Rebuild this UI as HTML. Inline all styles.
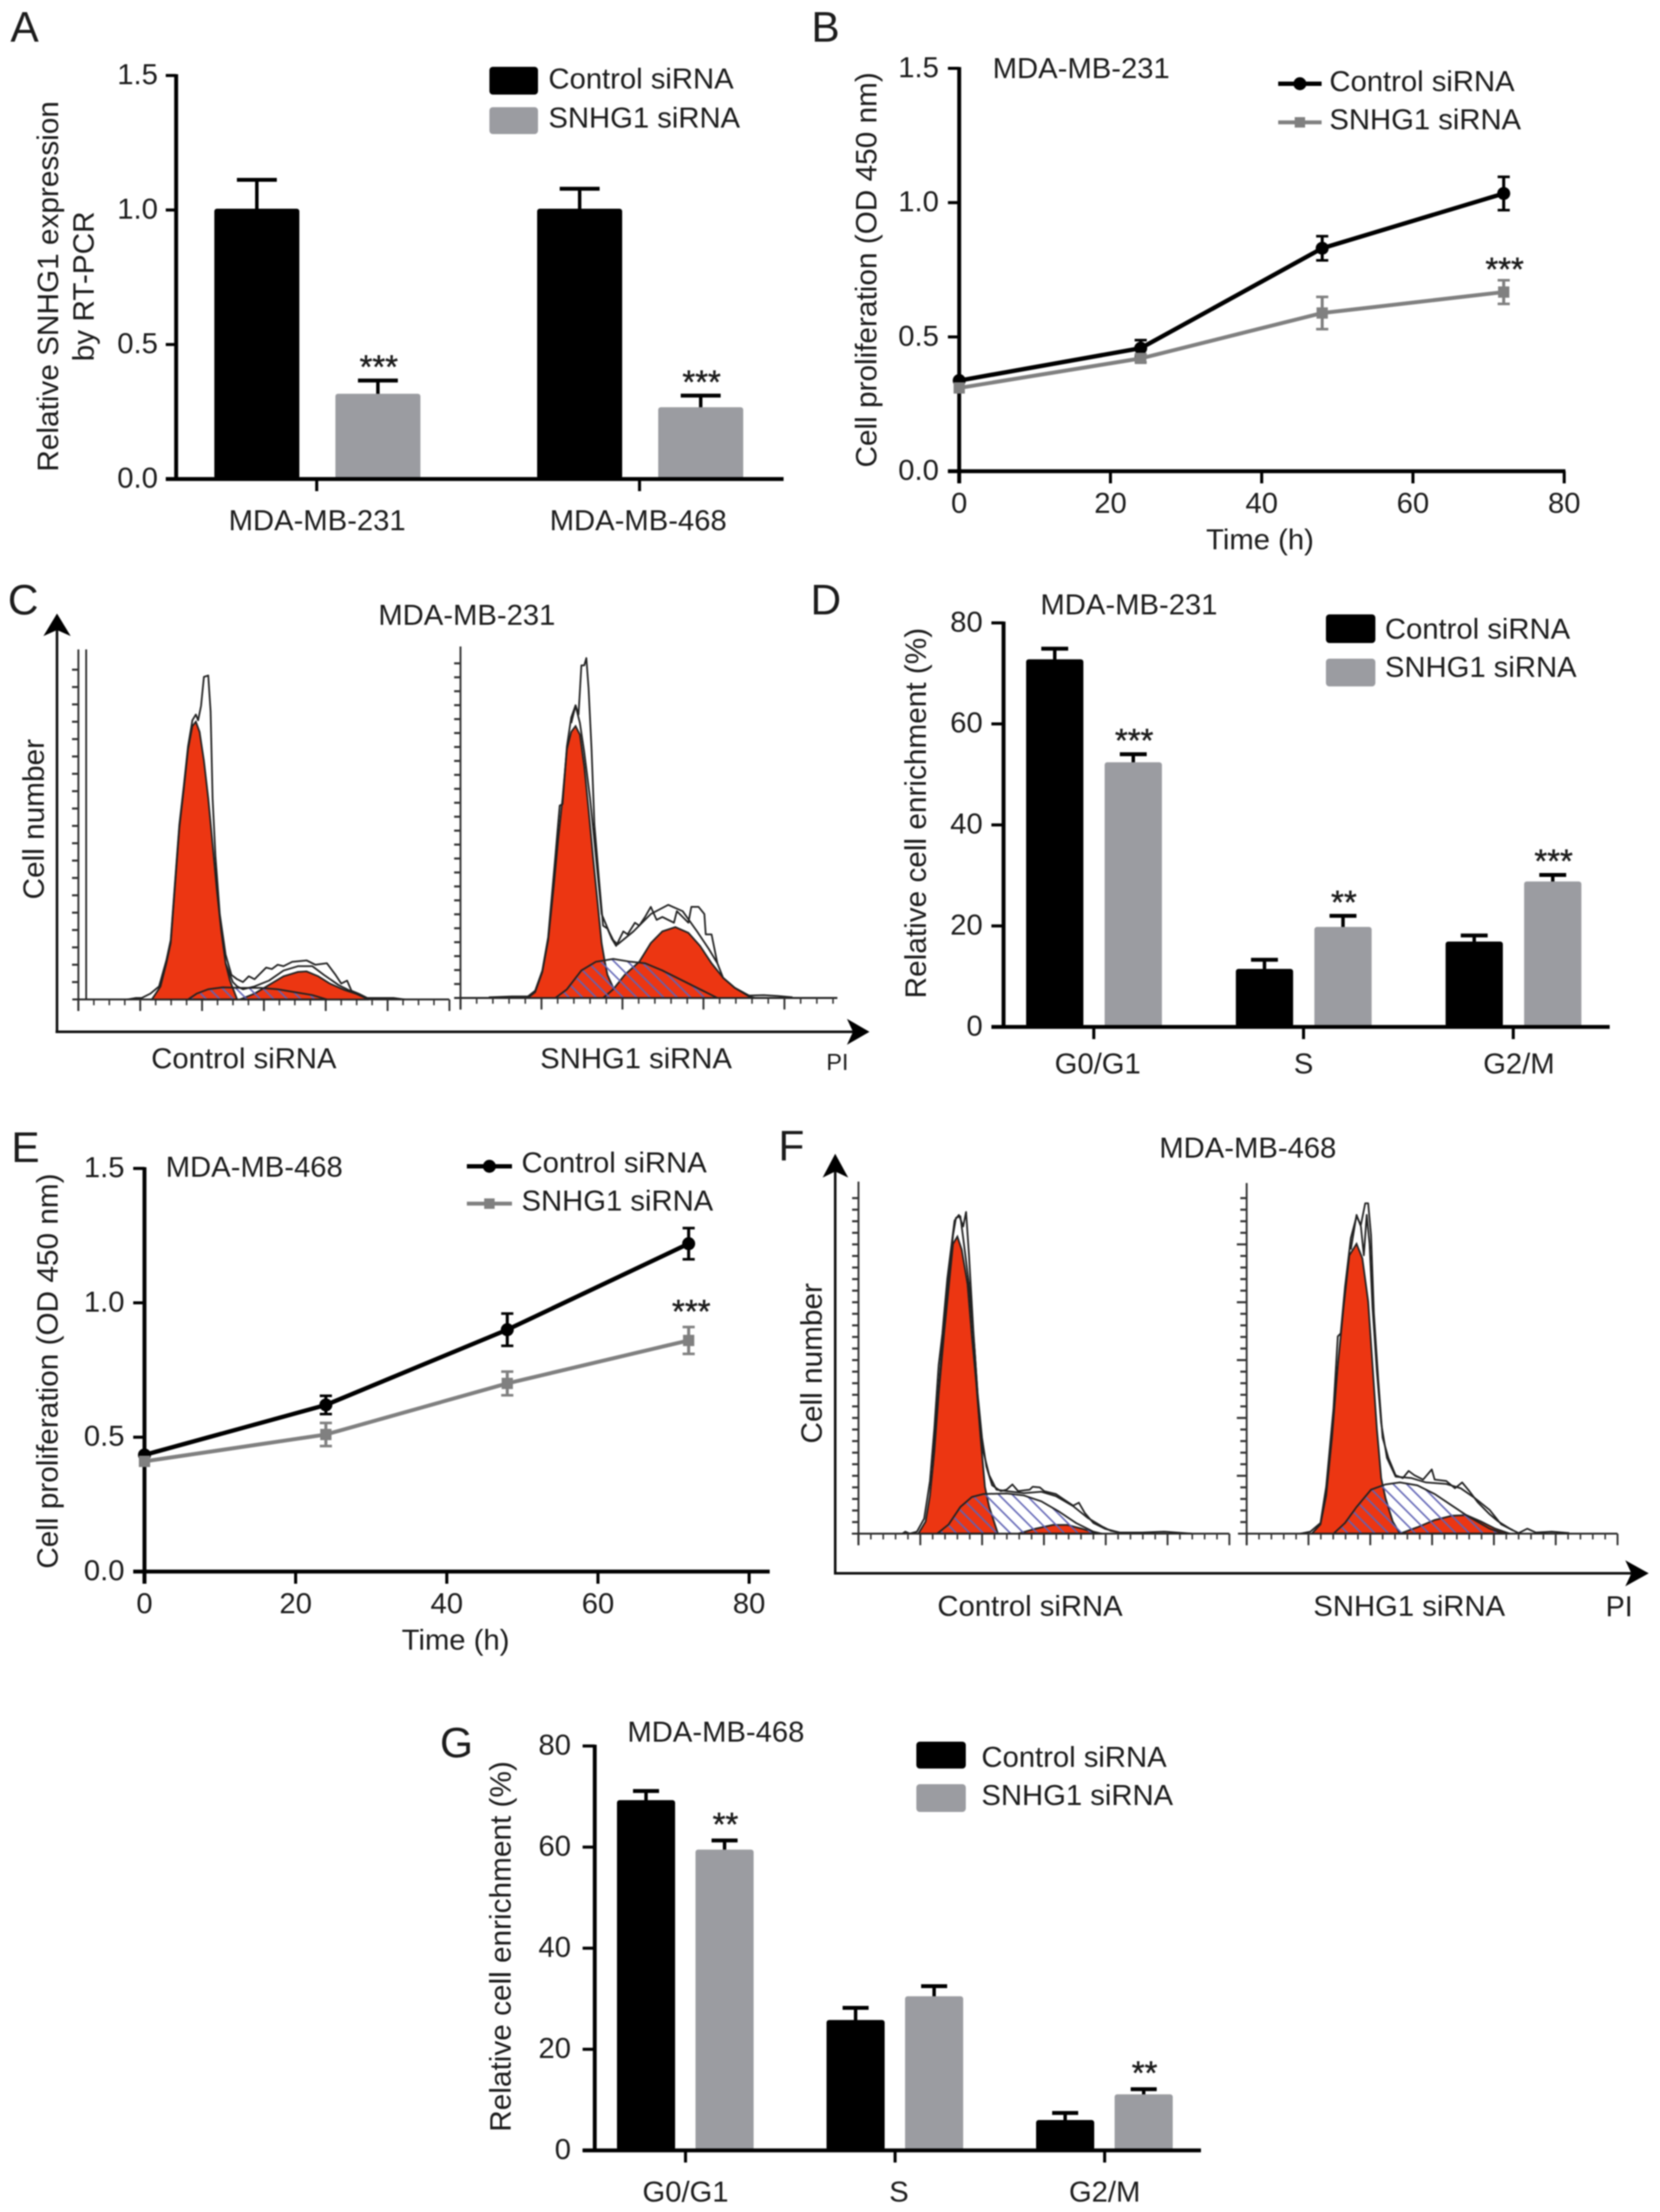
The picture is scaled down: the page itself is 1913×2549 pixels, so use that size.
<!DOCTYPE html>
<html lang="en">
<head>
<meta charset="utf-8">
<title>SNHG1 siRNA figure</title>
<style>
  html, body { margin: 0; padding: 0; background: #fff; }
  svg { display: block; filter: blur(0.7px); }
  text { font-family: "Liberation Sans", Arial, sans-serif; fill: #1c1c1c; }
  .lab { font-size: 33.7px; dominant-baseline: central; }
  .ytitle { font-size: 34.3px; }
  .panel { font-size: 49px; }
  .mid { text-anchor: middle; }
</style>
</head>
<body>
<svg id="fig" xmlns="http://www.w3.org/2000/svg" width="1913" height="2549" viewBox="0 0 1913 2549">
  <defs>
    <pattern id="hatch" patternUnits="userSpaceOnUse" width="11" height="11" patternTransform="rotate(-45)">
      <line x1="3" y1="0" x2="3" y2="11" stroke="#5f62b4" stroke-width="1.8"/>
    </pattern>
  </defs>
  <rect width="1913" height="2549" fill="#fff"/>

  <!-- Panel letters -->
  <text class="panel" x="12" y="48">A</text>
  <text class="panel" x="935" y="48">B</text>
  <text class="panel" x="9" y="708">C</text>
  <text class="panel" x="934" y="708">D</text>
  <text class="panel" x="13" y="1339">E</text>
  <text class="panel" x="897" y="1337">F</text>
  <text class="panel" x="507" y="2025">G</text>

  <!-- Panel A static -->
  <text class="lab mid ytitle" transform="translate(56,330) rotate(-90)">Relative SNHG1 expression</text>
  <text class="lab mid ytitle" transform="translate(97,330) rotate(-90)">by RT-PCR</text>
  <rect x="564" y="77" width="56" height="32" rx="4" fill="#000"/>
  <rect x="564" y="123.5" width="56" height="31" rx="4" fill="#9b9ca1"/>
  <text class="lab" x="632" y="91">Control siRNA</text>
  <text class="lab" x="632" y="136">SNHG1 siRNA</text>

  <!-- Panel B static -->
  <text class="lab" x="1144" y="79">MDA-MB-231</text>
  <text class="lab mid ytitle" transform="translate(999,311) rotate(-90)">Cell proliferation (OD 450 nm)</text>
  <text class="lab mid" x="1452" y="622">Time (h)</text>
  <line x1="1473" y1="96.5" x2="1523" y2="96.5" stroke="#000" stroke-width="5"/>
  <circle cx="1498" cy="96.5" r="7.5" fill="#000"/>
  <line x1="1473" y1="141" x2="1523" y2="141" stroke="#808080" stroke-width="4.5"/>
  <rect x="1492" y="135" width="12" height="12" fill="#808080"/>
  <text class="lab" x="1532" y="94">Control siRNA</text>
  <text class="lab" x="1532" y="138">SNHG1 siRNA</text>

  <!-- Panel C static -->
  <text class="lab" x="436" y="709">MDA-MB-231</text>
  <text class="lab mid ytitle" transform="translate(39.5,944) rotate(-90)">Cell number</text>
  <text class="lab mid" x="281" y="1220">Control siRNA</text>
  <text class="lab mid" x="733" y="1220">SNHG1 siRNA</text>
  <text class="lab mid" x="965" y="1224" style="font-size:27px">PI</text>
  <line x1="65.7" y1="725" x2="65.7" y2="1189.5" stroke="#111" stroke-width="3"/>
  <line x1="64" y1="1189" x2="985" y2="1189" stroke="#111" stroke-width="3"/>
  <path d="M65.7 707 L81.5 733 L65.7 726 L50 733 Z" fill="#000"/>
  <path d="M1002 1189 L976 1204 L983 1189 L976 1174 Z" fill="#000"/>

  <!-- Panel D static -->
  <text class="lab" x="1199" y="697">MDA-MB-231</text>
  <text class="lab mid ytitle" transform="translate(1056,937) rotate(-90)">Relative cell enrichment (%)</text>
  <rect x="1528" y="708" width="57" height="33" rx="4" fill="#000"/>
  <rect x="1528" y="759" width="57" height="32" rx="4" fill="#9b9ca1"/>
  <text class="lab" x="1596" y="725">Control siRNA</text>
  <text class="lab" x="1596" y="769">SNHG1 siRNA</text>

  <!-- Panel E static -->
  <text class="lab" x="191" y="1345">MDA-MB-468</text>
  <text class="lab mid ytitle" transform="translate(55.7,1580) rotate(-90)">Cell proliferation (OD 450 nm)</text>
  <text class="lab mid" x="525" y="1890">Time (h)</text>
  <line x1="538" y1="1344" x2="590" y2="1344" stroke="#000" stroke-width="5"/>
  <circle cx="564" cy="1344" r="7.5" fill="#000"/>
  <line x1="538" y1="1387" x2="590" y2="1387" stroke="#808080" stroke-width="4.5"/>
  <rect x="558" y="1381" width="12" height="12" fill="#808080"/>
  <text class="lab" x="601" y="1340">Control siRNA</text>
  <text class="lab" x="601" y="1384">SNHG1 siRNA</text>

  <!-- Panel F static -->
  <text class="lab" x="1336" y="1323">MDA-MB-468</text>
  <text class="lab mid ytitle" transform="translate(936,1571) rotate(-90)">Cell number</text>
  <text class="lab mid" x="1187" y="1851">Control siRNA</text>
  <text class="lab mid" x="1624" y="1851">SNHG1 siRNA</text>
  <text class="lab mid" x="1866" y="1851" style="font-size:33px">PI</text>
  <line x1="962.5" y1="1348" x2="962.5" y2="1814" stroke="#111" stroke-width="3"/>
  <line x1="961" y1="1813" x2="1882" y2="1813" stroke="#111" stroke-width="3"/>
  <path d="M962.5 1329.5 L977.5 1357 L962.5 1350 L948 1357 Z" fill="#000"/>
  <path d="M1900 1813 L1873 1828 L1880 1813 L1873 1798 Z" fill="#000"/>

  <!-- Panel G static -->
  <text class="lab" x="723" y="1996">MDA-MB-468</text>
  <text class="lab mid ytitle" transform="translate(577.5,2243) rotate(-90)">Relative cell enrichment (%)</text>
  <rect x="1056" y="2007" width="57" height="31" rx="4" fill="#000"/>
  <rect x="1056" y="2056" width="57" height="32" rx="4" fill="#9b9ca1"/>
  <text class="lab" x="1131" y="2025">Control siRNA</text>
  <text class="lab" x="1131" y="2069">SNHG1 siRNA</text>
</svg>

<script>
// ---------- Panel A data ----------
const aCategories = ['MDA-MB-231', 'MDA-MB-468'];
const aControl = [1.005, 1.005];
const aSnhg1 = [0.317, 0.267];
const aControlErr = [0.107, 0.074];
const aSnhg1Err = [0.049, 0.043];
const aStars = ['***', '***'];
const aTicks = [0, 0.5, 1, 1.5];

// ---------- Panel B data ----------
const bTimes = [0, 24, 48, 72];
const bControl = [0.3375, 0.458, 0.83, 1.034];
const bControlErr = [0, 0.03, 0.045, 0.062];
const bSnhg1 = [0.31, 0.42, 0.589, 0.667];
const bSnhg1Err = [0, 0.015, 0.06, 0.044];
const bStars = ['', '', '', '***'];
const bXTicks = [0, 20, 40, 60, 80];
const bYTicks = [0, 0.5, 1, 1.5];

// ---------- Panel D data ----------
const dCategories = ['G0/G1', 'S', 'G2/M'];
const dControl = [72.8, 11.5, 16.9];
const dSnhg1 = [52.4, 19.8, 28.8];
const dControlErr = [2.1, 1.8, 1.2];
const dSnhg1Err = [1.6, 2.2, 1.3];
const dStars = ['***', '**', '***'];
const dTicks = [0, 20, 40, 60, 80];

// ---------- Panel E data ----------
const eTimes = [0, 24, 48, 72];
const eControl = [0.434, 0.62, 0.9, 1.22];
const eControlErr = [0, 0.034, 0.06, 0.058];
const eSnhg1 = [0.41, 0.51, 0.7, 0.86];
const eSnhg1Err = [0, 0.043, 0.044, 0.05];
const eStars = ['', '', '', '***'];
const eXTicks = [0, 20, 40, 60, 80];
const eYTicks = [0, 0.5, 1, 1.5];

// ---------- Panel G data ----------
const gCategories = ['G0/G1', 'S', 'G2/M'];
const gControl = [69.3, 25.8, 6];
const gSnhg1 = [59.5, 30.5, 11.1];
const gControlErr = [1.8, 2.4, 1.4];
const gSnhg1Err = [1.8, 2, 1];
const gSnhg1Stars = ['**', '', '**'];
const gTicks = [0, 20, 40, 60, 80];

// ---------- Panel C histograms: [channel, count] ----------
const cLeftG1 = [[345,0],[375,45],[395,125],[410,195],[425,395],[440,595],[455,725],[470,865],[485,945],[497,960],[510,925],[525,825],[540,695],[555,535],[570,375],[585,235],[600,125],[615,65],[640,0]];
const cLeftS = [[470,0],[500,20],[540,35],[590,42],[650,40],[720,40],[780,35],[840,25],[900,15],[950,0]];
const cLeftG2M = [[650,0],[700,20],[750,50],[800,80],[850,95],[880,97],[920,80],[960,55],[1010,33],[1050,20],[1095,0]];
const cLeftRawA = [[260,0],[290,5],[310,5],[340,20],[370,45],[395,135],[410,205],[425,405],[440,605],[455,735],[470,875],[485,965],[497,985],[505,965],[515,1015],[525,1115],[540,1120],[548,995],[555,695],[565,495],[580,295],[600,155],[620,85],[640,70],[660,60],[680,80],[700,70],[740,110],[760,105],[780,120],[800,115],[830,130],[880,135],[910,120],[950,125],[980,85],[1000,55],[1020,65],[1035,30],[1060,20],[1090,5],[1140,5],[1180,5],[1220,0]];
const cLeftRawB = [[600,125],[625,60],[640,45],[660,35],[700,45],[750,65],[800,100],[850,115],[900,115],[940,85],[990,50],[1050,20],[1095,0]];
const cLeftSpike = [[118,0],[118,1210]];

const cRightG1 = [[295,0],[320,20],[345,90],[365,200],[385,390],[400,550],[415,690],[430,860],[445,920],[460,940],[475,910],[490,800],[505,650],[520,490],[535,340],[550,190],[560,130],[570,80],[590,35],[600,0]];
const cRightS = [[390,0],[430,30],[480,95],[530,125],[590,135],[650,125],[700,120],[760,95],[820,65],[880,35],[950,0]];
const cRightG2M = [[555,0],[590,30],[630,80],[680,125],[720,190],[760,230],[805,245],[850,225],[890,180],[930,120],[970,70],[1010,35],[1060,5],[1080,0]];
const cRightRawA = [[160,2],[240,5],[295,5],[320,25],[345,95],[365,210],[390,490],[405,665],[415,670],[430,870],[445,970],[460,1012],[470,980],[480,1150],[490,1150],[497,1175],[505,1070],[515,860],[525,600],[540,420],[555,250],[570,240],[585,205],[600,180],[625,230],[640,220],[665,260],[680,250],[700,280],[720,315],[740,270],[760,280],[800,260],[810,300],[830,280],[850,260],[860,315],[885,315],[905,290],[910,220],[930,220],[950,120],[970,70],[1010,35],[1060,8],[1110,10],[1160,7],[1210,2]];
const cRightRawB = [[445,950],[460,1010],[475,950],[490,850],[510,690],[530,490],[550,290],[575,230],[590,200],[605,185],[660,230],[720,290],[780,322],[830,300],[880,230],[920,170],[950,120]];

// ---------- Panel F histograms: [channel, count] ----------
const fLeftG1 = [[295,0],[320,42],[335,132],[350,282],[365,482],[385,702],[400,852],[415,1002],[430,1027],[445,982],[465,862],[480,682],[495,522],[510,332],[525,162],[540,92],[570,0]];
const fLeftS = [[360,0],[400,32],[440,92],[480,127],[520,137],[600,139],[660,132],[720,112],[780,77],[840,37],[900,7],[930,0]];
const fLeftG2M = [[640,0],[700,17],[760,30],[810,30],[860,17],[915,0]];
const fLeftRawA = [[240,0],[250,7],[265,0],[290,7],[315,52],[335,182],[350,362],[365,582],[378,692],[395,882],[410,1002],[420,1082],[435,1102],[450,1062],[460,1112],[470,962],[485,702],[500,482],[515,332],[530,232],[550,167],[580,147],[600,152],[620,170],[640,147],[680,152],[690,162],[715,160],[730,147],[770,137],[800,117],[830,97],[850,107],[870,72],[900,37],[940,17],[990,4],[1070,4],[1145,7],[1240,0]];
const fLeftRawB = [[345,232],[365,502],[380,682],[400,882],[415,1032],[425,1092],[440,1097],[450,1022],[470,862],[490,632],[505,402],[520,282],[540,202],[565,152],[600,147],[660,140],[720,145],[770,130],[830,95],[880,55],[930,25],[960,10],[1000,2]];

const fRightG1 = [[335,0],[365,32],[385,132],[405,332],[425,582],[445,782],[465,962],[490,1002],[510,952],[530,802],[545,582],[560,362],[575,192],[590,122],[615,42],[640,0]];
const fRightS = [[410,0],[450,37],[490,92],[540,152],[590,170],[640,177],[700,167],[760,137],[820,97],[880,57],[950,17],[1000,0]];
const fRightG2M = [[640,0],[700,22],[760,47],[820,62],[870,64],[920,42],[970,17],[1020,0]];
const fRightRawA = [[295,0],[330,7],[365,37],[385,162],[410,432],[425,682],[435,692],[450,852],[470,1022],[490,1097],[505,1067],[520,1142],[530,1142],[540,1032],[550,762],[565,532],[580,332],[600,262],[625,202],[650,192],[670,217],[690,202],[720,187],[750,222],[760,187],[800,182],[830,157],[855,177],[880,147],[910,107],[950,67],[980,42],[1020,17],[1050,2],[1080,17],[1110,4],[1165,7],[1225,2]];
const fRightRawB = [[470,982],[490,1102],[505,1062],[515,962],[525,1102],[535,1002],[545,782],[560,562],[575,382],[595,262],[625,197],[680,192],[730,177],[800,172],[850,157],[900,122],[950,82],[990,32],[1030,12]];

const SVGNS = 'http://www.w3.org/2000/svg';
const fig = document.getElementById('fig');

function mk(parent, tag, name, attrs, content) {
  const el = document.createElementNS(SVGNS, tag);
  
  
  for (const k in attrs) el.setAttribute(k, attrs[k]);
  if (content !== undefined) el.textContent = content;
  parent.appendChild(el);
  return el;
}

function starText(g, name, cx, cy, s) {
  mk(g, 'text', name, { x: cx, y: cy + 18, 'text-anchor': 'middle', style: 'font-size:38px;stroke:#1c1c1c;stroke-width:0.5px' }, s);
}

function barChart(c) {
  const g = mk(fig, 'g', c.name, {});
  const yS = v => c.yZero - v * c.pxPerUnit;
  const cx = i => c.center0 + i * c.centerStep;
  c.categories.forEach((cat, i) => {
    [[c.control, c.controlErr, c.off1, '#000', 'control', null],
     [c.snhg1, c.snhg1Err, c.off2, '#9b9ca1', 'snhg1', c.stars]].forEach(s => {
      const x = cx(i) + s[2];
      const top = yS(s[0][i]);
      const errTop = yS(s[0][i] + s[1][i]);
      mk(g, 'line', c.name + '-error-' + s[4], { x1: x, x2: x, y1: top + 3, y2: errTop, stroke: '#000', 'stroke-width': 4 });
      mk(g, 'line', c.name + '-error-cap-' + s[4], { x1: x - c.capW / 2, x2: x + c.capW / 2, y1: errTop, y2: errTop, stroke: '#000', 'stroke-width': 4.5 });
      mk(g, 'rect', c.name + '-bar-' + s[4], { x: x - c.barW / 2, y: top, width: c.barW, height: c.yZero - top, rx: 3, fill: s[3] });
      if (s[5] && s[5][i]) starText(g, c.name + '-significance', x + 1, errTop - c.starGap, s[5][i]);
    });
    mk(g, 'line', c.name + '-x-tick', { x1: cx(i), x2: cx(i), y1: c.yZero, y2: c.yZero + 14, stroke: '#000', 'stroke-width': 3.5 });
    mk(g, 'text', c.name + '-x-label', { class: 'lab mid', x: cx(i) + c.labelShift[i], y: c.labelY }, cat);
  });
  mk(g, 'line', c.name + '-y-axis', { x1: c.axisX, x2: c.axisX, y1: yS(c.ticks[c.ticks.length - 1]) - 1.5, y2: c.yZero + 2, stroke: '#000', 'stroke-width': 4.5 });
  mk(g, 'line', c.name + '-x-axis', { x1: c.axisX - c.tickLen, x2: c.xEnd, y1: c.yZero, y2: c.yZero, stroke: '#000', 'stroke-width': 4.5 });
  c.ticks.forEach(t => {
    mk(g, 'line', c.name + '-y-tick', { x1: c.axisX - c.tickLen, x2: c.axisX, y1: yS(t), y2: yS(t), stroke: '#000', 'stroke-width': 3.5 });
    mk(g, 'text', c.name + '-y-tick-label', { class: 'lab', x: c.labelRight, y: yS(t) - 1, 'text-anchor': 'end' }, c.fmt(t));
  });
}

function lineChart(c) {
  const g = mk(fig, 'g', c.name, {});
  const xS = v => c.axisX + v * c.pxPerX;
  const yS = v => c.yZero - v * c.pxPerY;
  mk(g, 'line', c.name + '-y-axis', { x1: c.axisX, x2: c.axisX, y1: yS(c.yTicks[c.yTicks.length - 1]) - 1.5, y2: c.yZero + 14, stroke: '#000', 'stroke-width': 4.5 });
  mk(g, 'line', c.name + '-x-axis', { x1: c.axisX - 13, x2: c.xEnd, y1: c.yZero, y2: c.yZero, stroke: '#000', 'stroke-width': 4.5 });
  c.yTicks.forEach(t => {
    mk(g, 'line', c.name + '-y-tick', { x1: c.axisX - 13, x2: c.axisX, y1: yS(t), y2: yS(t), stroke: '#000', 'stroke-width': 3.5 });
    mk(g, 'text', c.name + '-y-tick-label', { class: 'lab', x: c.labelRight, y: yS(t) - 1, 'text-anchor': 'end' }, t.toFixed(1));
  });
  c.xTicks.forEach(t => {
    mk(g, 'line', c.name + '-x-tick', { x1: xS(t), x2: xS(t), y1: c.yZero, y2: c.yZero + 14, stroke: '#000', 'stroke-width': 3.5 });
    mk(g, 'text', c.name + '-x-tick-label', { class: 'lab mid', x: xS(t), y: c.yZero + 37 }, String(t));
  });
  [[c.control, c.controlErr, '#000', 'control', 5],
   [c.snhg1, c.snhg1Err, '#808080', 'snhg1', 4.5]].forEach(s => {
    const pts = c.times.map((t, i) => xS(t) + ',' + yS(s[0][i])).join(' ');
    mk(g, 'polyline', c.name + '-line-' + s[3], { points: pts, fill: 'none', stroke: s[2], 'stroke-width': s[4] });
    c.times.forEach((t, i) => {
      const x = xS(t), y = yS(s[0][i]), e = s[1][i];
      if (e > 0) {
        mk(g, 'line', c.name + '-error-' + s[3], { x1: x, x2: x, y1: yS(s[0][i] + e), y2: yS(s[0][i] - e), stroke: s[2], 'stroke-width': 3.5 });
        [s[0][i] + e, s[0][i] - e].forEach(v => {
          mk(g, 'line', c.name + '-error-cap-' + s[3], { x1: x - 7, x2: x + 7, y1: yS(v), y2: yS(v), stroke: s[2], 'stroke-width': 3 });
        });
      }
      if (s[3] === 'control') {
        mk(g, 'circle', c.name + '-point-control', { cx: x, cy: y, r: 7.5, fill: s[2] });
      } else {
        mk(g, 'rect', c.name + '-point-snhg1', { x: x - 6.5, y: y - 6.5, width: 13, height: 13, fill: s[2] });
      }
    });
  });
  c.stars.forEach((s, i) => {
    if (s) starText(g, c.name + '-significance', xS(c.times[i]) + c.starShift, yS(c.snhg1[i] + c.snhg1Err[i]) - c.starGap, s);
  });
}

function flowPanel(c) {
  const g = mk(fig, 'g', c.name, {});
  const xS = ch => c.originX + ch / 3;
  const yS = n => c.baseY - n / 3;
  const pts = arr => arr.map(p => xS(p[0]).toFixed(1) + ',' + yS(p[1]).toFixed(1)).join(' ');
  // baseline and count axis
  mk(g, 'line', c.name + '-count-axis', { x1: xS(c.axisCh), x2: xS(c.axisCh), y1: yS(c.axisTop), y2: yS(-c.axisDrop), stroke: '#333', 'stroke-width': 2.2 });
  mk(g, 'line', c.name + '-channel-axis', { x1: xS(c.baseStart), x2: xS(c.baseEnd), y1: yS(0), y2: yS(0), stroke: '#222', 'stroke-width': 2.2 });
  for (let n = c.yStep, k = 1; n <= c.yMax; n += c.yStep, k++) {
    const long = c.longEvery && k % c.longEvery === 0;
    mk(g, 'line', c.name + '-count-tick', { x1: xS(c.axisCh - (long ? 34 : 22)), x2: xS(c.axisCh), y1: yS(n), y2: yS(n), stroke: '#333', 'stroke-width': 2.4 });
  }
  for (let i = 0, ch = c.axisCh; ch <= c.baseEnd + 1; i++, ch = c.axisCh + i * c.majorStep / c.minorPerMajor) {
    const major = i % c.minorPerMajor === 0;
    mk(g, 'line', c.name + '-channel-tick', { x1: xS(ch), x2: xS(ch), y1: yS(0), y2: yS(major ? -40 : -20), stroke: '#333', 'stroke-width': major ? 2.2 : 1.8 });
  }
  // fitted peaks
  mk(g, 'polygon', c.name + '-s-phase-base', { points: pts(c.s), fill: '#fff' });
  mk(g, 'polygon', c.name + '-g1-peak', { points: pts(c.g1), fill: '#ec3612', stroke: '#222', 'stroke-width': 2 });
  mk(g, 'polygon', c.name + '-g2m-peak', { points: pts(c.g2m), fill: '#ec3612', stroke: '#222', 'stroke-width': 2 });
  mk(g, 'polygon', c.name + '-s-phase-hatch', { points: pts(c.s), fill: 'url(#hatch)', stroke: '#222', 'stroke-width': 2 });
  c.raws.forEach(r => {
    mk(g, 'polyline', c.name + '-raw-trace', { points: pts(r), fill: 'none', stroke: '#222', 'stroke-width': 2, 'stroke-linejoin': 'round' });
  });
}

barChart({ name: 'chart-a', axisX: 203, yZero: 552, pxPerUnit: 310, xEnd: 903, tickLen: 12,
  center0: 365, centerStep: 372, off1: -69, off2: 70.5, barW: 98, capW: 46, starGap: 21,
  categories: aCategories, control: aControl, snhg1: aSnhg1, controlErr: aControlErr, snhg1Err: aSnhg1Err,
  stars: aStars, ticks: aTicks, fmt: t => t.toFixed(1), labelRight: 182, labelY: 600, labelShift: [0.5, -1.5] });

lineChart({ name: 'chart-b', axisX: 1105.4, yZero: 543, pxPerX: 8.715, pxPerY: 309.5, xEnd: 1804, labelRight: 1082, starGap: 18, starShift: 1,
  times: bTimes, control: bControl, controlErr: bControlErr, snhg1: bSnhg1, snhg1Err: bSnhg1Err, stars: bStars, xTicks: bXTicks, yTicks: bYTicks });

barChart({ name: 'chart-d', axisX: 1156.5, yZero: 1183.4, pxPerUnit: 5.82, xEnd: 1855, tickLen: 14,
  center0: 1260.5, centerStep: 241.7, off1: -45, off2: 45.5, barW: 66, capW: 31, starGap: 21,
  categories: dCategories, control: dControl, snhg1: dSnhg1, controlErr: dControlErr, snhg1Err: dSnhg1Err,
  stars: dStars, ticks: dTicks, fmt: t => String(t), labelRight: 1132.5, labelY: 1226, labelShift: [4.5, 0, 6.5] });

lineChart({ name: 'chart-e', axisX: 166.5, yZero: 1811, pxPerX: 8.71, pxPerY: 309.7, xEnd: 887, labelRight: 143.5, starGap: 23, starShift: 3,
  times: eTimes, control: eControl, controlErr: eControlErr, snhg1: eSnhg1, snhg1Err: eSnhg1Err, stars: eStars, xTicks: eXTicks, yTicks: eYTicks });

barChart({ name: 'chart-g', axisX: 685.4, yZero: 2478, pxPerUnit: 5.825, xEnd: 1384, tickLen: 14,
  center0: 790, centerStep: 241.5, off1: -45.5, off2: 45, barW: 67, capW: 30, starGap: 24,
  categories: gCategories, control: gControl, snhg1: gSnhg1, controlErr: gControlErr, snhg1Err: gSnhg1Err,
  stars: gSnhg1Stars, ticks: gTicks, fmt: t => String(t), labelRight: 658, labelY: 2526, labelShift: [0, 4.5, 0] });

flowPanel({ name: 'chart-c-control', originX: 60, baseY: 1151.7, axisCh: 91, axisTop: 1210, axisDrop: 40, baseStart: 70, baseEnd: 1373,
  majorStep: 213.8, minorPerMajor: 4, yStep: 60, yMax: 1160,
  g1: cLeftG1, s: cLeftS, g2m: cLeftG2M, raws: [cLeftSpike, cLeftRawA, cLeftRawB] });

flowPanel({ name: 'chart-c-snhg1', originX: 510, baseY: 1150, axisCh: 62, axisTop: 1215, axisDrop: 40, baseStart: 40, baseEnd: 1365,
  majorStep: 280, minorPerMajor: 5, yStep: 48.2, yMax: 1170,
  g1: cRightG1, s: cRightS, g2m: cRightG2M, raws: [cRightRawA, cRightRawB] });

flowPanel({ name: 'chart-f-control', originX: 960, baseY: 1767.3, axisCh: 88, axisTop: 1217, axisDrop: 40, baseStart: 65, baseEnd: 1370,
  majorStep: 213.7, minorPerMajor: 5, yStep: 40, yMax: 1190,
  g1: fLeftG1, s: fLeftS, g2m: fLeftG2M, raws: [fLeftRawA, fLeftRawB] });

flowPanel({ name: 'chart-f-snhg1', originX: 1400, baseY: 1767.3, axisCh: 110, axisTop: 1212, axisDrop: 40, baseStart: 80, baseEnd: 1392,
  majorStep: 213.7, minorPerMajor: 5, yStep: 40, yMax: 1180, longEvery: 5,
  g1: fRightG1, s: fRightS, g2m: fRightG2M, raws: [fRightRawA, fRightRawB] });
</script>
</body>
</html>
